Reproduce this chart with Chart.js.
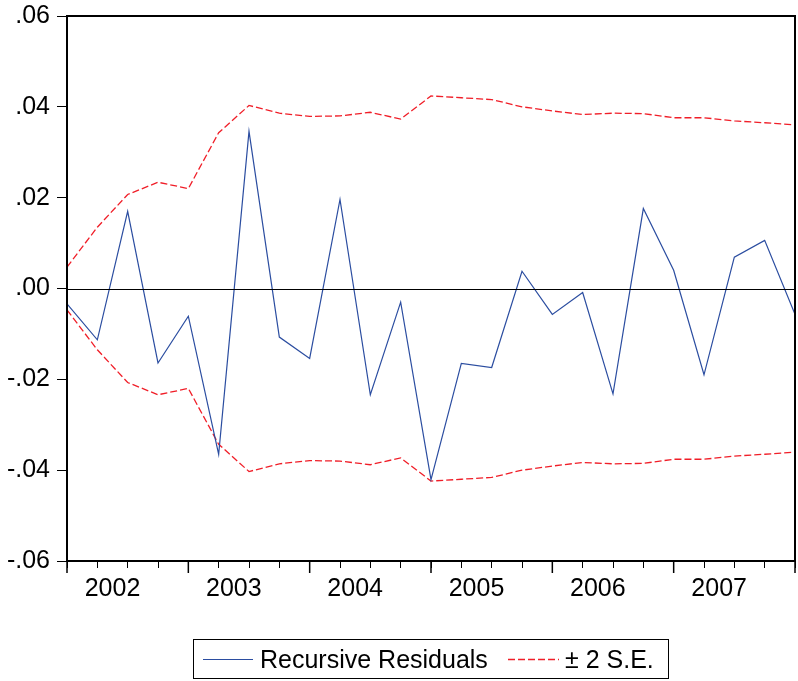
<!DOCTYPE html>
<html>
<head>
<meta charset="utf-8">
<script src="https://cdn.jsdelivr.net/npm/chart.js@4/dist/chart.umd.min.js"></script>
<style>
  html, body { margin: 0; padding: 0; background: #fff; }
  #wrap { position: relative; width: 798px; height: 681px; }
  #c { position: absolute; left: 0; top: 0; }
  #legend { position: absolute; left: 193px; top: 639px; width: 474px; height: 38px;
            border: 1px solid #000; font-family: 'Liberation Sans', Arial, sans-serif; font-size: 25px; color: #000; }
  #legend svg { position: absolute; top: 18px; }
  #legend .t { position: absolute; top: 4px; line-height: 30px; white-space: nowrap; }
</style>
</head>
<body>
<div id="wrap">
  <canvas id="c" width="798" height="681"></canvas>
  <div id="legend">
    <svg style="left:9px" width="50" height="3"><line x1="0" y1="1.5" x2="50" y2="1.5" stroke="#2B4DA0" stroke-width="1.2"/></svg>
    <div class="t" style="left:66px;">Recursive Residuals</div>
    <svg style="left:314px" width="51" height="3"><line x1="0" y1="1.5" x2="51" y2="1.5" stroke="#F01E28" stroke-width="1.3" stroke-dasharray="7,3"/></svg>
    <div class="t" style="left:371px;">± 2 S.E.</div>
  </div>
</div>
<script>
const periods = ['2002Q1','2002Q2','2002Q3','2002Q4','2003Q1','2003Q2','2003Q3','2003Q4',
  '2004Q1','2004Q2','2004Q3','2004Q4','2005Q1','2005Q2','2005Q3','2005Q4',
  '2006Q1','2006Q2','2006Q3','2006Q4','2007Q1','2007Q2','2007Q3','2007Q4','2008Q1'];
const yearLabels = ['2002','2003','2004','2005','2006','2007'];
const yTickLabels = ['.06','.04','.02','.00','-.02','-.04','-.06'];
const residuals = [-0.0034, -0.0113, 0.0170, -0.0164, -0.0061, -0.0365, 0.0346, -0.0107,
  -0.0154, 0.0196, -0.0234, -0.0030, -0.0421, -0.0165, -0.0174, 0.0038,
  -0.0057, -0.0009, -0.0232, 0.0176, 0.0040, -0.0190, 0.0069, 0.0106, -0.0057];
const upperSE = [0.0047, 0.0135, 0.0207, 0.0234, 0.0220, 0.0343, 0.0403, 0.0386,
  0.0379, 0.0380, 0.0388, 0.0373, 0.0424, 0.0420, 0.0416, 0.0400,
  0.0391, 0.0383, 0.0386, 0.0385, 0.0376, 0.0376, 0.0369, 0.0365, 0.0360];
const lowerSE = [-0.0047, -0.0135, -0.0207, -0.0234, -0.0220, -0.0343, -0.0403, -0.0386,
  -0.0379, -0.0380, -0.0388, -0.0373, -0.0424, -0.0420, -0.0416, -0.0400,
  -0.0391, -0.0383, -0.0386, -0.0385, -0.0376, -0.0376, -0.0369, -0.0365, -0.0360];

const FONT = "'Liberation Sans', Arial, sans-serif";
const toPts = arr => arr.map((v, i) => ({ x: i, y: v }));
// year label sits centred over its four quarterly observations
const yearPos = yearLabels.map((y, k) => 4 * k + 1.5);

const framePlugin = {
  id: 'frame',
  afterDatasetsDraw(chart) {
    const { ctx, chartArea: a, scales } = chart;
    ctx.save();
    const y0 = scales.y.getPixelForValue(0);
    ctx.strokeStyle = '#000';
    ctx.lineWidth = 1;
    ctx.beginPath(); ctx.moveTo(a.left, Math.round(y0) + 0.5); ctx.lineTo(a.right, Math.round(y0) + 0.5); ctx.stroke();
    ctx.lineWidth = 1.5;
    for (let i = 0; i < periods.length; i += 4) {
      const x = scales.x.getPixelForValue(i);
      ctx.beginPath(); ctx.moveTo(x, a.bottom); ctx.lineTo(x, a.bottom + 12); ctx.stroke();
    }
    ctx.lineWidth = 2;
    ctx.strokeRect(a.left, a.top, a.right - a.left, a.bottom - a.top);
    ctx.restore();
  }
};

new Chart(document.getElementById('c'), {
  type: 'line',
  data: {
    datasets: [
      { label: 'Recursive Residuals', data: toPts(residuals), borderColor: '#2B4DA0', borderWidth: 1.2,
        pointRadius: 0, tension: 0, fill: false },
      { label: '± 2 S.E.', data: toPts(upperSE), borderColor: '#F01E28', borderWidth: 1.3,
        borderDash: [7, 3], pointRadius: 0, tension: 0, fill: false },
      { label: '± 2 S.E. (lower)', data: toPts(lowerSE), borderColor: '#F01E28', borderWidth: 1.3,
        borderDash: [7, 3], pointRadius: 0, tension: 0, fill: false }
    ]
  },
  options: {
    responsive: false,
    animation: false,
    layout: { padding: { top: 16, right: 3, left: 0, bottom: 0 } },
    plugins: { legend: { display: false }, tooltip: { enabled: false } },
    scales: {
      x: {
        type: 'linear', min: 0, max: periods.length - 1,
        afterBuildTicks(scale) {
          const vals = periods.map((p, i) => i).concat(yearPos).sort((a, b) => a - b);
          scale.ticks = vals.map(v => ({ value: v }));
        },
        afterFit(scale) { scale.height = 120; scale.paddingLeft = 0; scale.paddingRight = 0; },
        ticks: {
          autoSkip: false, maxRotation: 0, padding: 6,
          font: { family: FONT, size: 25 }, color: '#000',
          callback: v => { const k = yearPos.indexOf(v); return k >= 0 ? yearLabels[k] : ''; }
        },
        grid: { drawOnChartArea: false, tickLength: 7, color: '#000', tickWidth: 1,
          tickColor: ctx => (Number.isInteger(ctx.tick.value) ? '#000' : 'rgba(0,0,0,0)') },
        border: { display: false }
      },
      y: {
        min: -0.06, max: 0.06,
        afterBuildTicks(scale) { scale.ticks = yTickLabels.map((t, i) => ({ value: 0.06 - 0.02 * i })); },
        afterFit(scale) { scale.width = 67; scale.paddingTop = 0; scale.paddingBottom = 0; },
        ticks: {
          padding: 7, font: { family: FONT, size: 25 }, color: '#000',
          callback: (v, i) => yTickLabels[i]
        },
        grid: { drawOnChartArea: false, tickLength: 10, color: '#000', tickWidth: 1 },
        border: { display: false }
      }
    }
  },
  plugins: [framePlugin]
});
</script>
</body>
</html>
